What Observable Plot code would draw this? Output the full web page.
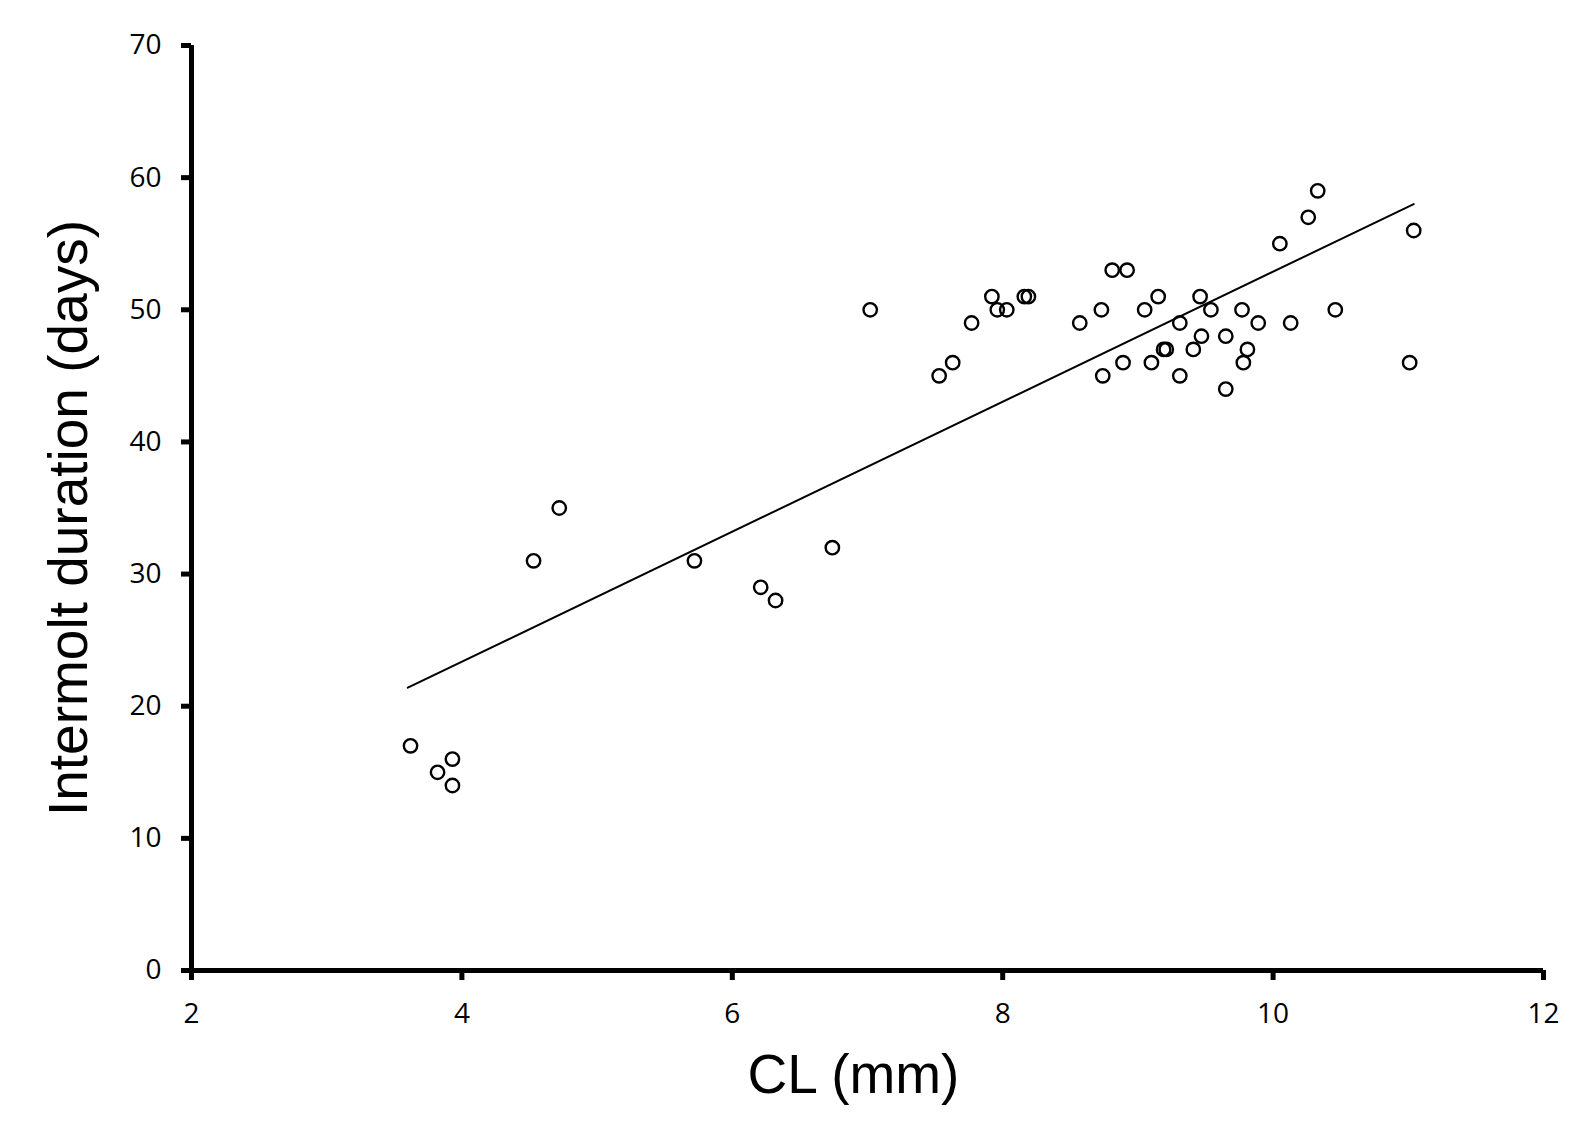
<!DOCTYPE html>
<html>
<head>
<meta charset="utf-8">
<script src="https://cdn.jsdelivr.net/npm/d3@7"></script>
<script src="https://cdn.jsdelivr.net/npm/@observablehq/plot@0.6"></script>
<style>
  html, body { margin: 0; padding: 0; background: #fff; }
</style>
</head>
<body>
<div id="chart"></div>
<script>
// Carapace length (mm) of each individual
const clValues = [
  3.62, 3.82, 3.93, 3.93, 4.53, 4.72, 5.72, 6.21, 6.32, 6.74,
  7.02, 7.53, 7.63, 7.77, 7.92, 7.96, 8.03, 8.16, 8.19, 8.57,
  8.73, 8.74, 8.81, 8.92, 8.89, 9.05, 9.10, 9.15, 9.19, 9.21,
  9.31, 9.31, 9.41, 9.46, 9.47, 9.54, 9.65, 9.65, 9.77, 9.78,
  9.81, 9.89, 10.05, 10.13, 10.26, 10.33, 10.46, 11.01, 11.04
];
// Intermolt duration (days)
const durationValues = [
  17, 15, 16, 14, 31, 35, 31, 29, 28, 32,
  50, 45, 46, 49, 51, 50, 50, 51, 51, 49,
  50, 45, 53, 53, 46, 50, 46, 51, 47, 47,
  49, 45, 47, 51, 48, 50, 48, 44, 50, 46,
  47, 49, 55, 49, 57, 59, 50, 46, 56
];
// Fitted trend line end points
const trendX = [3.60, 11.04];
const trendY = [21.4, 58.0];

const xTicks = [2, 4, 6, 8, 10, 12];
const yTicks = [0, 10, 20, 30, 40, 50, 60, 70];

const points = clValues.map((x, i) => ({x, y: durationValues[i]}));
const trend = trendX.map((x, i) => ({x, y: trendY[i]}));

const tickFont = "'Open Sans', 'Noto Sans', sans-serif";
const labelFont = "'Liberation Sans', Arial, sans-serif";

const chart = Plot.plot({
  width: 1575,
  height: 1125,
  marginLeft: 191,
  marginRight: 32,
  marginTop: 45,
  marginBottom: 155,
  style: {background: "#fff", color: "#000", fontFamily: tickFont},
  x: {domain: [2, 12]},
  y: {domain: [0, 70]},
  marks: [
    Plot.axisX({ticks: xTicks, tickSize: 10, tickPadding: 23, fontSize: 28, fontFamily: tickFont, strokeWidth: 5, label: null, tickFormat: d => String(d)}),
    Plot.axisY({ticks: yTicks, tickSize: 10, tickPadding: 20, fontSize: 28, fontFamily: tickFont, strokeWidth: 5, label: null, tickFormat: d => String(d)}),
    Plot.ruleY([0], {x1: 2, x2: 12, stroke: "#000", strokeWidth: 5}),
    Plot.ruleX([2], {y1: 0, y2: 70, stroke: "#000", strokeWidth: 5}),
    Plot.line(trend, {x: "x", y: "y", stroke: "#000", strokeWidth: 2}),
    Plot.dot(points, {x: "x", y: "y", r: 6.7, stroke: "#000", strokeWidth: 2.4, fill: "none"}),
    Plot.text(["CL (mm)"], {frameAnchor: "bottom", textAnchor: "middle", dx: -14, dy: 122, lineAnchor: "bottom", fontSize: 55, fontFamily: labelFont, fill: "#000"}),
    Plot.text(["Intermolt duration (days)"], {frameAnchor: "left", textAnchor: "middle", dx: -105, dy: 10, rotate: -90, lineAnchor: "bottom", fontSize: 55, fontFamily: labelFont, fill: "#000"})
  ]
});
document.getElementById("chart").appendChild(chart);
</script>
</body>
</html>
